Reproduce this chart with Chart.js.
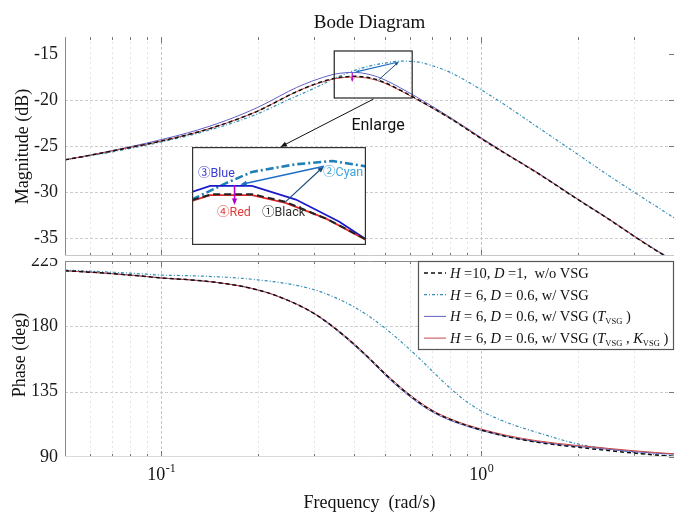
<!DOCTYPE html>
<html>
<head>
<meta charset="utf-8">
<script src="https://cdn.jsdelivr.net/npm/chart.js"></script>
<style>
  body { margin: 0; background: #fff; }
  #wrap { position: relative; width: 696px; height: 528px; overflow: hidden; }
  canvas { position: absolute; }
  #mag { left: 0; top: 0; z-index: 2; background: #fff; }
  #phase { left: 0; top: 245px; z-index: 1; }
  #inset { left: 192px; top: 147px; z-index: 3; background: #fff; }
</style>
</head>
<body>
<div id="wrap">
  <canvas id="mag" width="696" height="258"></canvas>
  <canvas id="phase" width="696" height="283"></canvas>
  <canvas id="inset" width="174" height="98"></canvas>
</div>
<script>
// frequency grid (rad/s)
const freqs = [0.05, 0.06, 0.07, 0.08, 0.09, 0.1, 0.12, 0.14, 0.16, 0.18, 0.2, 0.22, 0.25, 0.28, 0.31, 0.35,
  0.4, 0.45, 0.5, 0.56, 0.63, 0.7, 0.8, 0.9, 1, 1.2, 1.5, 2, 2.5, 3, 3.5, 4];

// magnitude (dB)
const magBlack = [-26.5, -26.0, -25.55, -25.15, -24.8, -24.45, -23.8, -23.15, -22.5, -21.85, -21.2, -20.5, -19.5, -18.72, -18.12, -17.62,
  -17.42, -17.6, -18.12, -18.95, -19.9, -20.8, -22.0, -23.15, -24.2, -25.9, -27.95, -30.8, -32.95, -34.8, -36.3, -37.5];
const magCyan = [-26.5, -26.05, -25.65, -25.25, -24.9, -24.55, -23.92, -23.3, -22.7, -22.1, -21.5, -20.85, -19.95, -19.2, -18.5, -17.6,
  -16.8, -16.28, -15.98, -15.78, -15.85, -16.25, -17.0, -17.95, -18.9, -20.65, -22.95, -25.9, -28.2, -30.0, -31.5, -32.8];
const magBlue = [-26.5, -25.98, -25.5, -25.07, -24.68, -24.3, -23.6, -22.9, -22.2, -21.5, -20.8, -20.08, -19.05, -18.27, -17.7, -17.17,
  -17.0, -17.25, -17.82, -18.7, -19.7, -20.65, -21.9, -23.05, -24.1, -25.85, -27.9, -30.75, -32.9, -34.75, -36.25, -37.45];
const magRed = [-26.5, -26.0, -25.55, -25.15, -24.8, -24.45, -23.8, -23.15, -22.5, -21.85, -21.2, -20.5, -19.5, -18.72, -18.17, -17.68,
  -17.5, -17.68, -18.18, -19.0, -19.95, -20.85, -22.0, -23.15, -24.2, -25.9, -27.95, -30.8, -32.95, -34.8, -36.3, -37.5];

// phase (deg)
const phBlack = [218.3, 217.3, 216.3, 215.3, 214.3, 213.3, 212.2, 210.9, 209.3, 207.4, 205.1, 202.4, 197.7, 192.6, 186.9, 178.4,
  167.7, 157.2, 147.3, 137.5, 128.6, 121.9, 115.8, 111.7, 108.6, 104.1, 100.1, 96.7, 94.4, 92.7, 91.4, 90.4];
const phCyan = [218.8, 218.0, 217.3, 216.6, 215.9, 215.3, 214.9, 214.4, 213.8, 213.0, 212.0, 211.0, 209.2, 207.0, 204.3, 199.8,
  193.4, 186.3, 178.7, 169.6, 159.4, 149.5, 137.3, 128.1, 121.7, 113.8, 106.8, 99.0, 95.6, 93.1, 91.6, 90.6];
const phBlue = [218.3, 217.3, 216.3, 215.3, 214.3, 213.3, 212.2, 210.9, 209.3, 207.4, 205.1, 202.4, 197.7, 192.6, 186.7, 178.0,
  167.1, 156.5, 146.5, 136.7, 127.8, 121.2, 115.2, 111.3, 108.3, 104.1, 100.4, 97.3, 95.3, 93.7, 92.6, 91.9];
const phRed = [218.3, 217.3, 216.3, 215.3, 214.3, 213.3, 212.2, 210.9, 209.3, 207.4, 205.1, 202.4, 197.7, 192.6, 187.1, 178.7,
  168.1, 157.6, 147.7, 138.0, 129.1, 122.4, 116.3, 112.2, 109.2, 104.9, 101.1, 97.9, 95.9, 94.3, 93.1, 92.2];

// enlarged view (piecewise, as drawn in the inset)
const insetBlackF = [0.347, 0.370, 0.421, 0.469, 0.540, 0.608];
const insetBlackDb = [-17.44, -17.13, -17.13, -17.53, -18.48, -19.49];
const insetCyanF = [0.347, 0.386, 0.421, 0.485, 0.546, 0.608];
const insetCyanDb = [-17.41, -16.58, -15.97, -15.57, -15.40, -15.68];
const insetBlueF = [0.347, 0.368, 0.421, 0.485, 0.558, 0.608];
const insetBlueDb = [-17.01, -16.70, -16.70, -17.41, -18.57, -19.49];
const insetRedF = [0.347, 0.368, 0.421, 0.469, 0.534, 0.608];
const insetRedDb = [-17.48, -17.18, -17.18, -17.58, -18.39, -19.52];

// ticks
const magTicks = [-35, -30, -25, -20, -15];
const phaseTicks = [90, 135, 180, 225];
const decadeTicks = [0.1, 1];
const decadeLabels = ['-1', '0'];
const freqTicks = [0.06, 0.07, 0.08, 0.09, 0.1, 0.2, 0.3, 0.4, 0.5, 0.6, 0.7, 0.8, 0.9, 1, 2, 3];

// legend rows: [text, style] with style '' normal, 'i' italic, 's' subscript
const legendRows = [
  [['H', 'i'], [' =10, ', ''], ['D', 'i'], [' =1,  w/o VSG', '']],
  [['H', 'i'], [' = 6, ', ''], ['D', 'i'], [' = 0.6, w/ VSG', '']],
  [['H', 'i'], [' = 6, ', ''], ['D', 'i'], [' = 0.6, w/ VSG (', ''], ['T', 'i'], ['VSG', 's'], [' )', '']],
  [['H', 'i'], [' = 6, ', ''], ['D', 'i'], [' = 0.6, w/ VSG (', ''], ['T', 'i'], ['VSG', 's'], [' , ', ''], ['K', 'i'], ['VSG', 's'], [' )', '']]
];

const SERIF = "'Liberation Serif', 'Times New Roman', serif";
const SANS = "Roboto, 'Noto Sans CJK SC', sans-serif";

const pairs = (fs, ys) => fs.map((f, i) => ({ x: f, y: ys[i] }));

function line(ctx, x1, y1, x2, y2) {
  ctx.beginPath(); ctx.moveTo(x1, y1); ctx.lineTo(x2, y2); ctx.stroke();
}

function arrow(ctx, x1, y1, x2, y2, color, w, head) {
  const a = Math.atan2(y2 - y1, x2 - x1);
  ctx.save();
  ctx.strokeStyle = color; ctx.fillStyle = color; ctx.lineWidth = w; ctx.setLineDash([]);
  line(ctx, x1, y1, x2 - Math.cos(a) * head * 0.7, y2 - Math.sin(a) * head * 0.7);
  ctx.beginPath();
  ctx.moveTo(x2, y2);
  ctx.lineTo(x2 - head * Math.cos(a - 0.38), y2 - head * Math.sin(a - 0.38));
  ctx.lineTo(x2 - head * Math.cos(a + 0.38), y2 - head * Math.sin(a + 0.38));
  ctx.closePath(); ctx.fill();
  ctx.restore();
}

function pt(chart, f, v) {
  return [chart.scales.x.getPixelForValue(f), chart.scales.y.getPixelForValue(v)];
}

function drawGrid(chart, yGrid) {
  const { ctx, chartArea: a, scales: { x, y } } = chart;
  ctx.save();
  ctx.lineWidth = 1;
  freqTicks.forEach(f => {
    const px = Math.round(x.getPixelForValue(f)) + 0.5;
    const major = decadeTicks.includes(f);
    ctx.strokeStyle = major ? '#c6c6c6' : '#e4e4e4';
    ctx.setLineDash(major ? [3, 2] : [2, 3]);
    line(ctx, px, a.top, px, a.bottom);
  });
  ctx.strokeStyle = '#cccccc';
  ctx.setLineDash([3, 2]);
  yGrid.forEach(v => {
    const py = Math.round(y.getPixelForValue(v)) + 0.5;
    line(ctx, a.left, py, a.right, py);
  });
  ctx.restore();
}

function drawInnerTicks(chart, yTicks) {
  const { ctx, chartArea: a, scales: { x, y } } = chart;
  ctx.save();
  ctx.strokeStyle = '#777'; ctx.lineWidth = 1; ctx.setLineDash([]);
  freqTicks.forEach(f => {
    const px = Math.round(x.getPixelForValue(f)) + 0.5;
    const len = decadeTicks.includes(f) ? 6 : 3;
    line(ctx, px, a.top, px, a.top + len);
    line(ctx, px, a.bottom, px, a.bottom - len);
  });
  yTicks.forEach(v => {
    const py = Math.round(y.getPixelForValue(v)) + 0.5;
    line(ctx, a.right, py, a.right - 5, py);
  });
  ctx.restore();
}

function rotatedText(ctx, text, cx, cy) {
  ctx.save();
  ctx.translate(cx, cy); ctx.rotate(-Math.PI / 2);
  ctx.textAlign = 'center'; ctx.textBaseline = 'middle';
  ctx.fillText(text, 0, 0);
  ctx.restore();
}

const magDecor = {
  id: 'magDecor',
  beforeDatasetsDraw(chart) {
    drawGrid(chart, magTicks.filter(v => v !== -15));
  },
  afterDatasetsDraw(chart) {
    const { ctx, chartArea: a } = chart;
    drawInnerTicks(chart, magTicks);
    ctx.save();
    ctx.setLineDash([]);
    ctx.lineWidth = 1;
    ctx.strokeStyle = '#8a8a8a';
    line(ctx, a.left + 0.5, a.top, a.left + 0.5, a.bottom);
    ctx.strokeStyle = '#c8c8c8';
    line(ctx, a.left, a.bottom - 0.5, a.right, a.bottom - 0.5);

    ctx.fillStyle = '#111';
    ctx.font = '19px ' + SERIF;
    ctx.textAlign = 'center'; ctx.textBaseline = 'alphabetic';
    ctx.fillText('Bode Diagram', (a.left + a.right) / 2, 28);
    ctx.font = '18px ' + SERIF;
    rotatedText(ctx, 'Magnitude (dB)', 23, (a.top + a.bottom) / 2);

    // zoom box
    const [bx1, by1] = pt(chart, 0.347, -14.67);
    const [bx2, by2] = pt(chart, 0.608, -19.78);
    ctx.strokeStyle = '#222'; ctx.lineWidth = 1.2;
    ctx.strokeRect(bx1, by1, bx2 - bx1, by2 - by1);

    // small arrows in the box
    let p = pt(chart, 0.477, -17.83), q = pt(chart, 0.551, -15.87);
    arrow(ctx, p[0], p[1], q[0], q[1], '#1b4f7a', 1, 4);
    p = pt(chart, 0.551, -15.87); q = pt(chart, 0.404, -16.96);
    arrow(ctx, p[0], p[1], q[0], q[1], '#1f6fc8', 1.2, 4);
    p = pt(chart, 0.395, -17.07); q = pt(chart, 0.395, -18.04);
    arrow(ctx, p[0], p[1], q[0], q[1], '#c000c0', 1.2, 4);

    // enlarge arrow and label
    p = pt(chart, 0.46, -19.9); q = pt(chart, 0.2355, -25.1);
    arrow(ctx, p[0], p[1], q[0], q[1], '#111', 1, 7);
    p = pt(chart, 0.3926, -23.26);
    ctx.fillStyle = '#111';
    ctx.font = '16px ' + SANS;
    ctx.textAlign = 'left';
    ctx.fillText('Enlarge', p[0], p[1]);
    ctx.restore();
  }
};

function drawLegend(chart) {
  const { ctx, chartArea: a } = chart;
  const x0 = 418, x1 = a.right, y0 = a.top, y1 = a.top + 89;
  const order = [0, 3, 2, 1];
  ctx.save();
  ctx.fillStyle = '#fff';
  ctx.fillRect(x0, y0, x1 - x0, y1 - y0);
  ctx.strokeStyle = '#555'; ctx.lineWidth = 1.2; ctx.setLineDash([]);
  ctx.strokeRect(x0 + 0.5, y0 + 0.5, x1 - x0 - 1, y1 - y0 - 1);
  legendRows.forEach((row, i) => {
    const ds = chart.data.datasets[order[i]];
    const cy = y0 + 12 + i * 21.7;
    ctx.strokeStyle = ds.borderColor; ctx.lineWidth = ds.borderWidth;
    ctx.setLineDash(ds.borderDash || []);
    line(ctx, 424, cy, 446, cy);
    ctx.setLineDash([]);
    let tx = 450;
    const base = cy + 5;
    ctx.fillStyle = '#111'; ctx.textAlign = 'left'; ctx.textBaseline = 'alphabetic';
    row.forEach(([t, s]) => {
      if (s === 'i') ctx.font = 'italic 14.5px ' + SERIF;
      else if (s === 's') ctx.font = '8.5px ' + SERIF;
      else ctx.font = '14.5px ' + SERIF;
      ctx.fillText(t, tx, s === 's' ? base + 3 : base);
      tx += ctx.measureText(t).width;
    });
  });
  ctx.restore();
}

const phaseDecor = {
  id: 'phaseDecor',
  beforeDatasetsDraw(chart) {
    drawGrid(chart, [135, 180]);
  },
  afterDatasetsDraw(chart) {
    const { ctx, chartArea: a, scales: { x } } = chart;
    drawInnerTicks(chart, phaseTicks);
    ctx.save();
    ctx.setLineDash([]); ctx.lineWidth = 1;
    ctx.strokeStyle = '#8a8a8a';
    line(ctx, a.left, a.top + 0.5, a.right, a.top + 0.5);
    line(ctx, a.left + 0.5, a.top, a.left + 0.5, a.bottom);
    ctx.strokeStyle = '#dadada';
    line(ctx, a.left, a.bottom - 0.5, a.right, a.bottom - 0.5);
    drawLegend(chart);

    ctx.fillStyle = '#111';
    ctx.font = '18px ' + SERIF;
    rotatedText(ctx, 'Phase (deg)', 20, 110);
    ctx.textAlign = 'center'; ctx.textBaseline = 'alphabetic';
    ctx.fillText('Frequency  (rad/s)', (a.left + a.right) / 2, 263);

    decadeTicks.forEach((f, i) => {
      const cx = x.getPixelForValue(f);
      ctx.font = '18px ' + SERIF;
      const w1 = ctx.measureText('10').width;
      ctx.font = '12px ' + SERIF;
      const w2 = ctx.measureText(decadeLabels[i]).width;
      const left = cx - (w1 + w2) / 2;
      ctx.textAlign = 'left';
      ctx.font = '18px ' + SERIF;
      ctx.fillText('10', left, 235);
      ctx.font = '12px ' + SERIF;
      ctx.fillText(decadeLabels[i], left + w1 + 0.5, 227);
    });
    ctx.restore();
  }
};

const baseOptions = (yMin, yMax, yTicks, pad, xHeight) => ({
  responsive: false,
  animation: false,
  layout: { padding: pad },
  elements: { point: { radius: 0 }, line: { cubicInterpolationMode: 'monotone' } },
  plugins: { legend: { display: false }, tooltip: { enabled: false } },
  scales: {
    x: {
      type: 'logarithmic', min: 0.05, max: 4,
      ticks: { display: false },
      grid: { display: false, drawTicks: false },
      border: { display: false },
      afterFit(s) { s.height = xHeight; s.paddingLeft = 0; s.paddingRight = 0; }
    },
    y: {
      min: yMin, max: yMax,
      afterBuildTicks(s) { s.ticks = yTicks.map(v => ({ value: v })); },
      ticks: { font: { family: SERIF, size: 18 }, color: '#1a1a1a', padding: 7 },
      grid: { display: false, drawTicks: false },
      border: { display: false },
      afterFit(s) { s.width = 65; s.paddingTop = 0; s.paddingBottom = 0; }
    }
  }
});

const styleBlack = { borderColor: '#111', borderWidth: 1.5, borderDash: [4, 3] };
const styleRed = { borderColor: '#c84545', borderWidth: 1 };
const styleBlue = { borderColor: '#6260c4', borderWidth: 1 };
const styleCyan = { borderColor: '#3690b6', borderWidth: 1.2, borderDash: [3, 2, 1, 2] };

new Chart(document.getElementById('mag'), {
  type: 'line',
  data: {
    datasets: [
      { data: pairs(freqs, magBlack), ...styleBlack },
      { data: pairs(freqs, magRed), ...styleRed },
      { data: pairs(freqs, magBlue), ...styleBlue },
      { data: pairs(freqs, magCyan), ...styleCyan }
    ]
  },
  options: baseOptions(-36.95, -13.15, magTicks, { left: 0, top: 37, right: 22, bottom: 2 }, 0),
  plugins: [magDecor]
});

new Chart(document.getElementById('phase'), {
  type: 'line',
  data: {
    datasets: [
      { data: pairs(freqs, phBlack), ...styleBlack },
      { data: pairs(freqs, phRed), ...styleRed },
      { data: pairs(freqs, phBlue), ...styleBlue },
      { data: pairs(freqs, phCyan), ...styleCyan }
    ]
  },
  options: baseOptions(90, 225, phaseTicks, { left: 0, top: 16, right: 22, bottom: 0 }, 71),
  plugins: [phaseDecor]
});

// enlarged view
const insetDecor = {
  id: 'insetDecor',
  afterDatasetsDraw(chart) {
    const { ctx, width, height } = chart;
    ctx.save();
    let p = pt(chart, 0.469, -17.53), q = pt(chart, 0.531, -15.67);
    arrow(ctx, p[0], p[1], q[0], q[1], '#1b4f7a', 1.2, 7);
    p = pt(chart, 0.531, -15.67); q = pt(chart, 0.4055, -16.63);
    arrow(ctx, p[0], p[1], q[0], q[1], '#1f6fc8', 1.5, 7);
    p = pt(chart, 0.398, -16.66); q = pt(chart, 0.398, -17.70);
    arrow(ctx, p[0], p[1], q[0], q[1], '#b400c8', 1.6, 7);

    ctx.font = '12.5px ' + SANS;
    ctx.textAlign = 'left'; ctx.textBaseline = 'alphabetic';
    ctx.fillStyle = '#3b3bd6'; ctx.fillText('③Blue', 6, 30);
    ctx.fillStyle = '#3ea6d8'; ctx.fillText('②Cyan', 131, 29);
    ctx.fillStyle = '#e23b3b'; ctx.fillText('④Red', 25, 69);
    ctx.fillStyle = '#303030'; ctx.fillText('①Black', 70, 69);

    ctx.strokeStyle = '#333'; ctx.lineWidth = 1.2; ctx.setLineDash([]);
    ctx.strokeRect(0.6, 0.6, width - 1.2, height - 1.2);
    ctx.restore();
  }
};

new Chart(document.getElementById('inset'), {
  type: 'line',
  data: {
    datasets: [
      { data: pairs(insetBlackF, insetBlackDb), borderColor: '#222', borderWidth: 2, borderDash: [7, 4] },
      { data: pairs(insetRedF, insetRedDb), borderColor: '#e0282a', borderWidth: 1.8 },
      { data: pairs(insetBlueF, insetBlueDb), borderColor: '#1a1acc', borderWidth: 1.8 },
      { data: pairs(insetCyanF, insetCyanDb), borderColor: '#1f7fb8', borderWidth: 2.6, borderDash: [8, 3, 2, 3] }
    ]
  },
  options: {
    responsive: false,
    animation: false,
    layout: { padding: 0 },
    elements: { point: { radius: 0 }, line: { tension: 0 } },
    plugins: { legend: { display: false }, tooltip: { enabled: false } },
    scales: {
      x: { type: 'logarithmic', min: 0.347, max: 0.608, display: false },
      y: { min: -19.78, max: -14.67, display: false }
    }
  },
  plugins: [insetDecor]
});
</script>
</body>
</html>
